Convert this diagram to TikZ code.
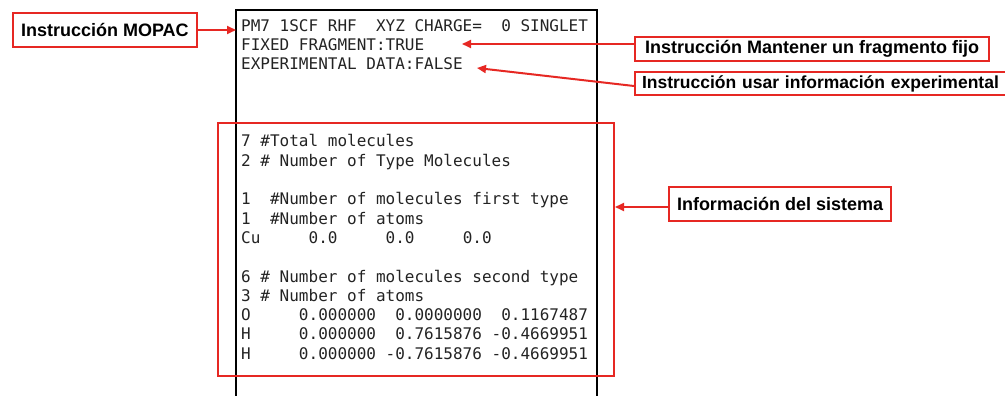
\documentclass[tikz,border=0pt]{standalone}
\usepackage{fontspec}
\setmainfont{Liberation Sans}
\setmonofont{DejaVu Sans Mono}
\usetikzlibrary{arrows.meta,positioning}
\definecolor{labelred}{RGB}{230,40,35}
\definecolor{codegray}{RGB}{35,35,35}

\begin{document}
\begin{tikzpicture}[
	%	style def
    x=1pt, y=-1pt,
    file line/.style={line width=1.1pt, black},
    label box/.style={draw=labelred, line width=2pt, font=\bfseries\fontsize{18}{21}\selectfont,
        inner xsep=8pt, inner ysep=0pt, minimum height=#1, anchor=west},
    label box/.default=34pt,
    code/.style={inner xsep=5pt, inner ysep=0pt, text=codegray, align=left,
        font=\ttfamily\fontsize{16}{19.3}\selectfont},
    pointer/.style={line width=2pt, labelred, -{Triangle[length=9pt,width=8pt]}},
    every node/.style={color=black}
    ]
    \useasboundingbox (0,0) rectangle (1005,396);

	% input file frame (open at the bottom)
	\draw[file line] (236,400) coordinate (fb1) -- (236,10) coordinate (ft1) -- (597,10) coordinate (ft2) -- (597,400) coordinate (fb2);

	% header lines of the input file
	\node[code, anchor=base west] (hdr1) at (236,31.7) {PM7 1SCF RHF ~XYZ CHARGE= ~0 SINGLET};
	\node[code, anchor=base west] (hdr2) at (236,50.7) {FIXED FRAGMENT:TRUE};
	\node[code, anchor=base west] (hdr3) at (236,70) {EXPERIMENTAL DATA:FALSE};

	% system block
	\node[code, anchor=north west] (data) at (236,134.5) {%
7 \#Total molecules\\
2 \# Number of Type Molecules\\[19.3pt]
1 ~\#Number of molecules first type\\
1 ~\#Number of atoms\\
Cu ~~~~0.0 ~~~~0.0 ~~~~0.0\\[19.3pt]
6 \# Number of molecules second type\\
3 \# Number of atoms\\
O ~~~~0.000000 ~0.0000000 ~0.1167487\\
H ~~~~0.000000 ~0.7615876 -0.4669951\\
H ~~~~0.000000 -0.7615876 -0.4669951};
	\node[draw=labelred, line width=2pt, minimum width=396pt, minimum height=253pt, inner sep=0pt] (sis) at (416,249.5) {};

	% labels
	\node[label box] (mopac) at (12,30) {Instrucción MOPAC};
	\node[label box=24pt, inner xsep=10pt] (fijo) at (634,49) {Instrucción Mantener un fragmento fijo};
	\node[label box=23pt, inner xsep=7pt, text width=372pt, align=left, font=\bfseries\fontsize{17.5}{21}\selectfont] (exper) at (634,83.5) {Instrucción usar información experimental};
	\node[label box] (sistema) at (668,204) {Información del sistema};

	% pointers
	\coordinate (fijo tip) at (462,44);
	\coordinate (exper tip) at (477,68);
	\draw[pointer] (mopac.east) -- (mopac.east -| hdr1.west);
	\draw[pointer] ([yshift=5pt]fijo.west) -- (fijo tip);
	\draw[pointer] ([yshift=-2.5pt]exper.west) -- (exper tip);
	\draw[pointer] ([yshift=-3pt]sistema.west) -- ([yshift=-3pt]sistema.west -| sis.east);

\end{tikzpicture}
\end{document}
